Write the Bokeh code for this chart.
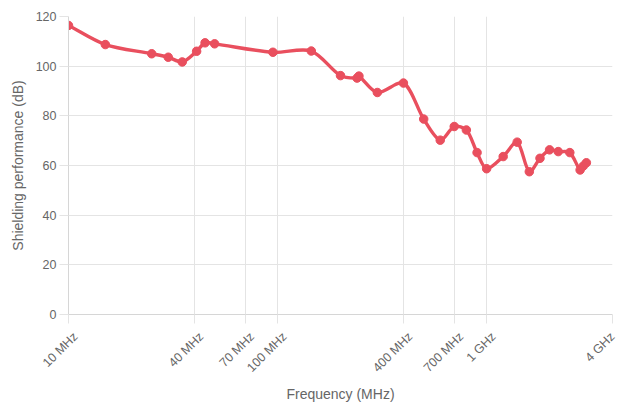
import math
from bokeh.plotting import figure
from bokeh.models import FixedTicker, Range1d, ColumnDataSource, LogAxis
from bokeh.embed import file_html
from bokeh.resources import INLINE

# Data (frequency in MHz, shielding in dB)
freq_mhz = [10, 15, 25, 30, 35, 41, 45, 50, 95, 145, 200, 240, 245, 300, 400,
            500, 600, 700, 800, 900, 1000, 1200, 1400, 1600, 1800, 2000, 2200,
            2500, 2800, 2900, 3000]
shielding_db = [116.4, 108.7, 105.0, 103.6, 101.7, 106.0, 109.4, 109.0, 105.6,
                106.1, 96.2, 95.2, 96.0, 89.4, 93.2, 78.7, 70.2, 75.7, 74.3,
                65.2, 58.7, 63.6, 69.4, 57.5, 62.9, 66.3, 65.6, 65.2, 58.2,
                59.8, 61.1]
x_ticks = [10, 40, 70, 100, 400, 700, 1000, 4000]
x_tick_labels = ["10 MHz", "40 MHz", "70 MHz", "100 MHz", "400 MHz", "700 MHz",
                 "1 GHz", "4 GHz"]
y_ticks = [0, 20, 40, 60, 80, 100, 120]
x_min, x_max = 10, 4000

LINE = "#e94f5e"
GRID = "#e4e4e4"
TXT = "#666666"
FONT = "Liberation Sans"

p = figure(width=621, height=405, x_axis_type="log", output_backend="svg",
           toolbar_location=None, min_border_left=68, min_border_top=16,
           min_border_right=9, min_border_bottom=91)
p.x_range = Range1d(x_min, x_max)
p.y_range = Range1d(0, 120)
p.outline_line_color = None
p.background_fill_color = "white"
p.border_fill_color = "white"

# Smooth curve (Chart.js style tension) via bezier control points
sx, sy = 209.0, 2.48
u = [math.log10(f) * sx for f in freq_mhz]
v = [d * sy for d in shielding_db]
n = len(u)
prev_cp, next_cp = [], []
t = 0.3
for i in range(n):
    a = max(i - 1, 0)
    b = min(i + 1, n - 1)
    d01 = math.hypot(u[i] - u[a], v[i] - v[a])
    d12 = math.hypot(u[b] - u[i], v[b] - v[i])
    tot = d01 + d12
    s01 = d01 / tot if tot else 0
    s12 = d12 / tot if tot else 0
    fa, fb = t * s01, t * s12
    du, dv = u[b] - u[a], v[b] - v[a]
    prev_cp.append((u[i] - fa * du, v[i] - fa * dv))
    next_cp.append((u[i] + fb * du, v[i] + fb * dv))

def inv(pt):
    return 10 ** (pt[0] / sx), pt[1] / sy

src = ColumnDataSource(dict(
    x0=freq_mhz[:-1], y0=shielding_db[:-1],
    x1=freq_mhz[1:], y1=shielding_db[1:],
    cx0=[inv(next_cp[i])[0] for i in range(n - 1)],
    cy0=[inv(next_cp[i])[1] for i in range(n - 1)],
    cx1=[inv(prev_cp[i + 1])[0] for i in range(n - 1)],
    cy1=[inv(prev_cp[i + 1])[1] for i in range(n - 1)],
))
p.bezier(x0="x0", y0="y0", x1="x1", y1="y1", cx0="cx0", cy0="cy0",
         cx1="cx1", cy1="cy1", source=src, line_color=LINE, line_width=3.4)
p.scatter(freq_mhz, shielding_db, size=8.5, fill_color=LINE, line_color=LINE)

# Main x axis: line + tick marks only
xa = p.xaxis[0]
xa.ticker = FixedTicker(ticks=x_ticks, minor_ticks=[])
xa.major_label_overrides = {tk: "" for tk in x_ticks}
xa.major_label_text_font_size = "0px"
xa.major_label_standoff = 0

# Second x axis carrying the rotated labels, nudged right like Chart.js
shift = 10 ** (7 / sx)
lab_pos = [min(tk * shift, x_max) for tk in x_ticks]
xa2 = LogAxis(ticker=FixedTicker(ticks=lab_pos, minor_ticks=[]),
              major_label_overrides={pos: lb for pos, lb in zip(lab_pos, x_tick_labels)},
              major_label_orientation=math.pi / 4,
              axis_line_color=None, major_tick_line_color=None,
              minor_tick_line_color=None, major_tick_out=0, major_tick_in=0,
              major_label_standoff=11,
              major_label_text_font=FONT, major_label_text_font_size="12.5px",
              major_label_text_color=TXT,
              axis_label="Frequency (MHz)", axis_label_standoff=3,
              axis_label_text_font=FONT, axis_label_text_font_size="14px",
              axis_label_text_font_style="normal", axis_label_text_color=TXT)
p.add_layout(xa2, "below")

ya = p.yaxis[0]
ya.ticker = FixedTicker(ticks=y_ticks, minor_ticks=[])
ya.axis_label = "Shielding performance (dB)"
ya.major_label_text_font = FONT
ya.major_label_text_font_size = "12.5px"
ya.major_label_text_color = TXT
ya.axis_label_text_font = FONT
ya.axis_label_text_font_size = "14px"
ya.axis_label_text_font_style = "normal"
ya.axis_label_text_color = TXT
ya.major_label_standoff = 3
ya.axis_label_standoff = 7

for ax in (xa, ya):
    ax.axis_line_color = "#d6d6d6"
    ax.major_tick_line_color = GRID
    ax.major_tick_out = 9
    ax.major_tick_in = 0
    ax.minor_tick_line_color = None

p.xgrid.ticker = FixedTicker(ticks=x_ticks, minor_ticks=[])
p.ygrid.ticker = FixedTicker(ticks=y_ticks, minor_ticks=[])
p.xgrid.grid_line_color = GRID
p.ygrid.grid_line_color = GRID

open("out.html", "w").write(file_html(p, INLINE))
